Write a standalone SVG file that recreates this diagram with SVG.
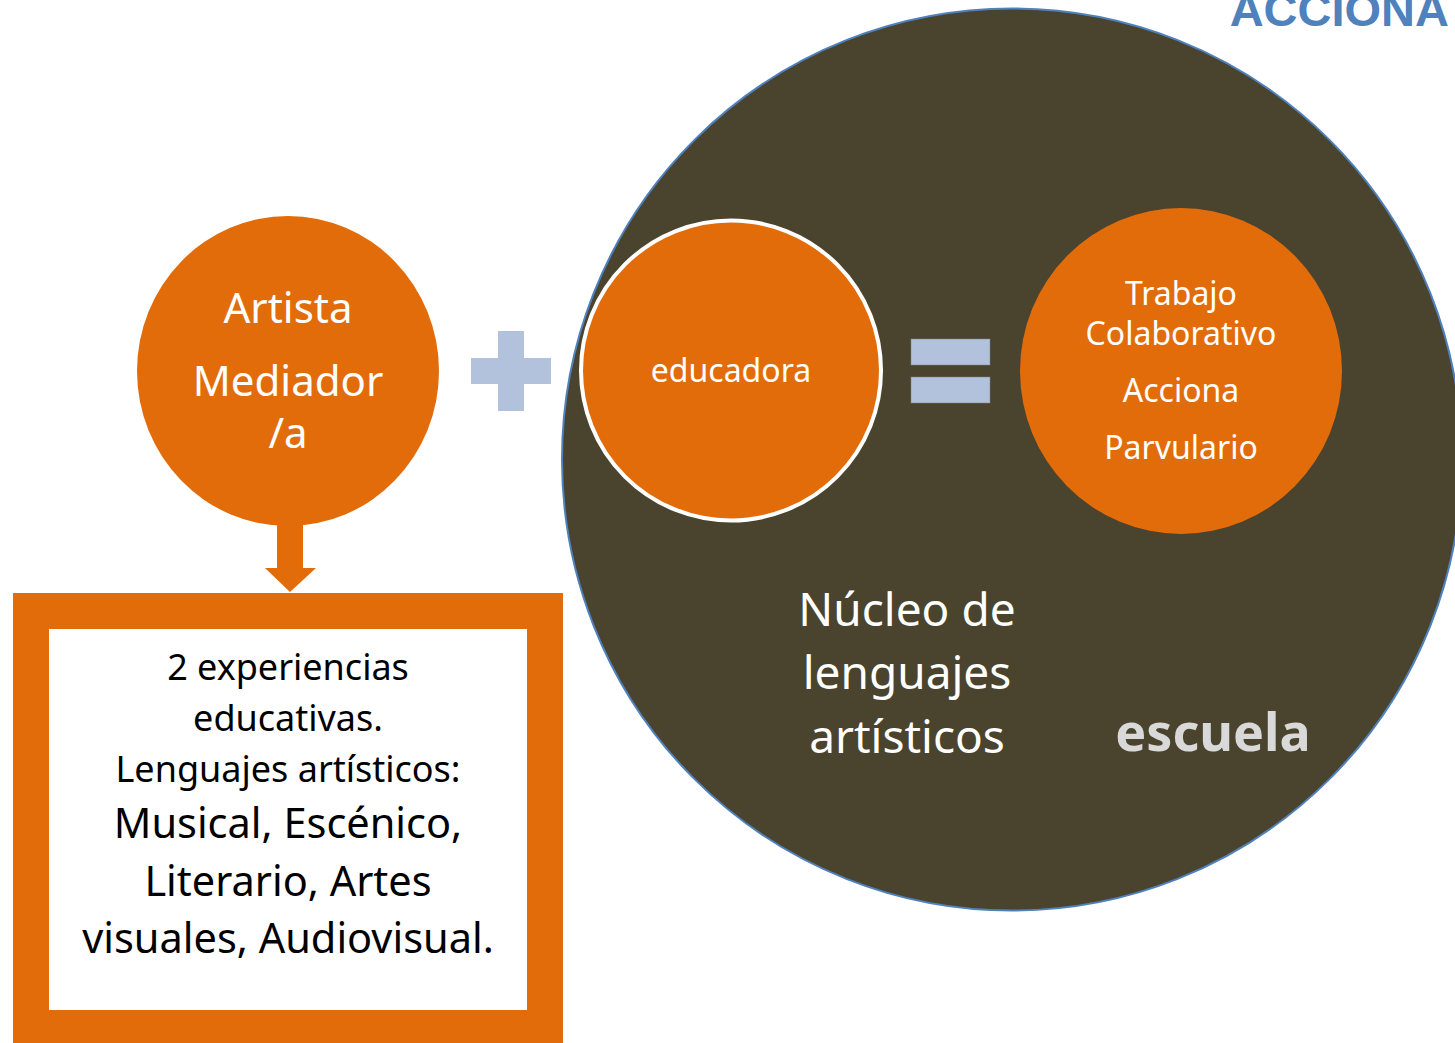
<svg xmlns="http://www.w3.org/2000/svg" width="1455" height="1043" viewBox="0 0 1455 1043">
<style>
.t{font-family:"Noto Sans","Open Sans",sans-serif;fill:#ffffff;text-anchor:middle}
.b{font-family:"Noto Sans","Open Sans",sans-serif;fill:#000000;text-anchor:middle}
.or{fill:#e36c0a}
.sym{fill:#b3c2dc}
</style>
<rect width="1455" height="1043" fill="#ffffff"/>
<text x="1449" y="26" font-family="Liberation Sans, Arial, sans-serif" font-weight="bold" font-size="47" fill="#4f81bd" text-anchor="end">ACCIONA</text>
<g id="escuela">
<ellipse cx="1012" cy="459.5" rx="450" ry="451" fill="#4a432e" stroke="#4f81bd" stroke-width="2"/>
<text x="1213" y="751" font-family="Noto Sans, Open Sans, sans-serif" font-weight="bold" font-size="52" fill="#d9d9d9" text-anchor="middle">escuela</text>
<text class="t" font-size="46"><tspan x="907" y="626">Núcleo de</tspan><tspan x="907" y="689">lenguajes</tspan><tspan x="907" y="753">artísticos</tspan></text>
</g>
<g id="artista">
<ellipse class="or" cx="288" cy="371" rx="151" ry="155"/>
<text class="t" font-size="42"><tspan x="288" y="323">Artista</tspan><tspan x="288" y="396">Mediador</tspan><tspan x="288" y="448">/a</tspan></text>
</g>
<g id="plus">
<rect class="sym" x="498" y="331" width="26" height="80"/>
<rect class="sym" x="471" y="358" width="80" height="26"/>
</g>
<g id="educadora">
<circle class="or" cx="731" cy="370.5" r="150" stroke="#ffffff" stroke-width="4"/>
<text class="t" x="731" y="382" font-size="32">educadora</text>
</g>
<g id="equals">
<rect class="sym" x="911" y="339" width="79" height="26" stroke="#7f7f7f" stroke-width="1" stroke-opacity="0.5"/>
<rect class="sym" x="911" y="377" width="79" height="26" stroke="#7f7f7f" stroke-width="1" stroke-opacity="0.5"/>
</g>
<g id="trabajo">
<ellipse class="or" cx="1181" cy="371" rx="161" ry="163"/>
<text class="t" font-size="32"><tspan x="1181" y="305">Trabajo</tspan><tspan x="1181" y="345">Colaborativo</tspan><tspan x="1181" y="402">Acciona</tspan><tspan x="1181" y="459">Parvulario</tspan></text>
</g>
<g id="connectors">
<path class="or" d="M277,520 H303 V568 H316 L290,592 L265,568 H277 Z"/>
</g>
<g id="experiencias">
<rect class="or" x="13" y="593" width="550" height="450"/>
<rect x="49" y="629" width="478" height="381" fill="#ffffff"/>
<text class="b" font-size="36"><tspan x="288" y="680">2 experiencias</tspan><tspan x="288" y="731">educativas.</tspan><tspan x="288" y="782">Lenguajes artísticos:</tspan></text>
<text class="b" font-size="41.5"><tspan x="288" y="838">Musical, Escénico,</tspan><tspan x="288" y="896">Literario, Artes</tspan><tspan x="288" y="953">visuales, Audiovisual.</tspan></text>
</g>
</svg>
